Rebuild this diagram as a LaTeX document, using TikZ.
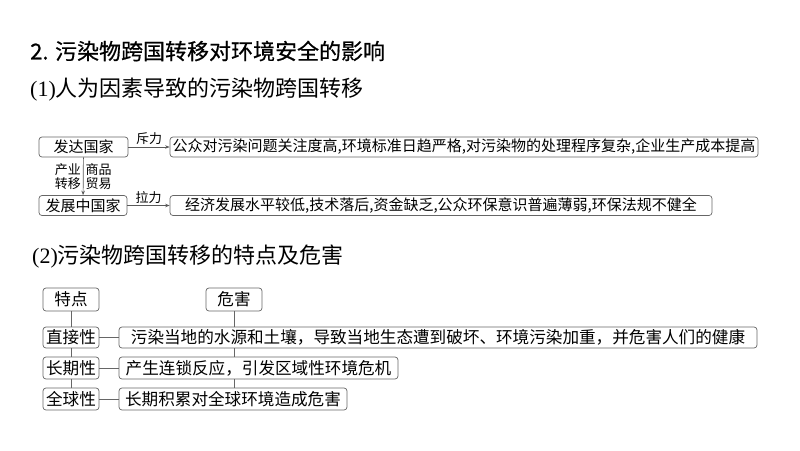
\documentclass[tikz,border=0pt]{standalone}
\usepackage{fontspec}
\setmainfont{Noto Sans CJK SC}
\newfontfamily\latinserif{Liberation Serif}
\newfontfamily\titlefont[FakeBold=0.6]{Noto Sans CJK SC}
\usetikzlibrary{arrows.meta}
\begin{document}
\begin{tikzpicture}[x=1pt,y=-1pt,
  box/.style={draw=black!60,line width=0.7pt,rounded corners=3pt,inner sep=0pt,align=center},
  boxa/.style={box,font=\fontsize{15}{18}\selectfont,minimum height=20pt},
  boxb/.style={box,font=\fontsize{16.6}{20}\selectfont,minimum height=22pt},
  lbl/.style={font=\fontsize{13}{14}\selectfont,inner sep=2pt,align=center},
  head/.style={anchor=west,inner sep=0pt,font=\fontsize{22}{26}\selectfont},
  arr/.style={draw=black!65,line width=0.7pt,-{Stealth[length=4.5pt,width=3.5pt]}},
  ln/.style={draw=black!60,line width=0.7pt}]
\useasboundingbox[fill=white] (0,0) rectangle (800,450);

% headings
\node[head,font=\fontsize{22}{26}\titlefont] (t1) at (30,51) {2. 污染物跨国转移对环境安全的影响};
\node[head] (t2) at (30,90) {{\latinserif (1)}人为因素导致的污染物跨国转移};
\node[head] (t3) at (32,257) {{\latinserif (2)}污染物跨国转移的特点及危害};

% part 1
\node[boxa,minimum width=89pt] (fd) at (83.5,147) {发达国家};
\node[boxa,minimum width=588pt] (gz) at (464,147) {公众对污染问题关注度高,环境标准日趋严格,对污染物的处理程序复杂,企业生产成本提高};
\node[boxa,minimum width=88pt] (fz) at (83,205.5) {发展中国家};
\node[boxa,minimum width=542pt] (jj) at (441,205.5) {经济发展水平较低,技术落后,资金缺乏,公众环保意识普遍薄弱,环保法规不健全};

\draw[arr] (fd) -- node[lbl,above=0pt] (cl) {斥力} (gz);
\draw[arr] (fz) -- node[lbl,above=0pt] (ll) {拉力} (jj);
\draw[arr] (fd) -- node[lbl,left] (cy) {产业\\转移} node[lbl,right] (sp) {商品\\贸易} (fz);

% part 2
\node[boxb,minimum width=56pt,minimum height=23pt] (td) at (71,299.5) {特点};
\node[boxb,minimum width=56pt,minimum height=23pt] (wh) at (234,299.5) {危害};
\node[boxb,minimum width=56pt,minimum height=21pt] (zj) at (71,337.5) {直接性};
\node[boxb,minimum width=638pt,minimum height=21pt] (z1) at (438,337.5) {污染当地的水源和土壤，导致当地生态遭到破坏、环境污染加重，并危害人们的健康};
\node[boxb,minimum width=56pt] (cq) at (71,368) {长期性};
\node[boxb,minimum width=279pt] (z2) at (258.5,368) {产生连锁反应，引发区域性环境危机};
\node[boxb,minimum width=56pt] (qq) at (71,399) {全球性};
\node[boxb,minimum width=228pt] (z3) at (233,399) {长期积累对全球环境造成危害};

\draw[ln] (td) -- (zj);
\draw[ln] (zj) -- (cq);
\draw[ln] (cq) -- (qq);
\draw[ln] (wh.south) -- (wh.south |- z1.north);
\draw[ln] (wh.south |- z1.south) -- (wh.south |- z2.north);
\draw[ln] (wh.south |- z2.south) -- (wh.south |- z3.north);
\draw[ln] (zj) -- (zj -| z1.west);
\draw[ln] (cq) -- (cq -| z2.west);
\draw[ln] (qq) -- (qq -| z3.west);
\end{tikzpicture}
\end{document}
